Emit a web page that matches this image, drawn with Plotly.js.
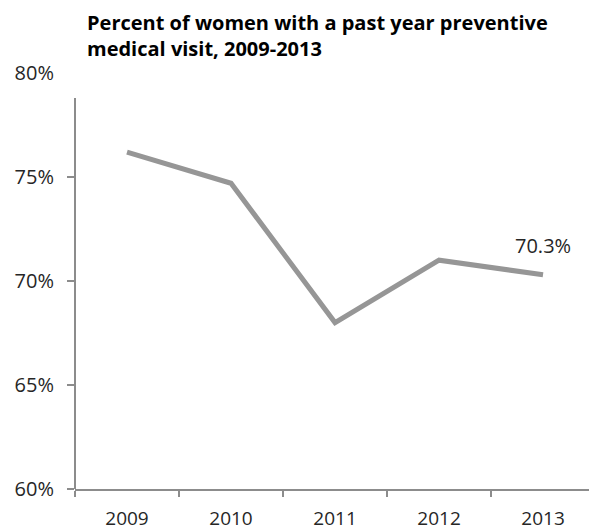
<!DOCTYPE html>
<html>
<head>
<meta charset="utf-8">
<script src="https://cdn.plot.ly/plotly-3.0.1.min.js"></script>
<style>html,body{margin:0;padding:0;background:#fff;}#chart{width:589px;height:531px;}</style>
</head>
<body>
<div id="chart"></div>
<script>
const years = ['2009', '2010', '2011', '2012', '2013'];
const percentVisit = [76.2, 74.7, 68.0, 71.0, 70.3];
const yTickValues = [60, 65, 70, 75, 80];
const yTickMarks = [60, 65, 70, 75];
const titleText = 'Percent of women with a past year preventive<br>medical visit, 2009-2013';

const axisGray = '#8c8c8c';
const textColor = '#262626';
const fontFamily = '"Open Sans", "Noto Sans", sans-serif';

const lastIdx = percentVisit.length - 1;

const traces = [
  {
    x: years,
    y: percentVisit,
    type: 'scatter',
    mode: 'lines',
    line: {color: '#969696', width: 5},
    hoverinfo: 'skip',
    showlegend: false
  },
  {
    x: years,
    y: years.map(() => null),
    yaxis: 'y2',
    type: 'scatter',
    mode: 'lines',
    hoverinfo: 'skip',
    showlegend: false
  }
];

const layout = {
  width: 589,
  height: 531,
  margin: {l: 75, r: 0, t: 73, b: 42, pad: 0},
  paper_bgcolor: '#ffffff',
  plot_bgcolor: '#ffffff',
  font: {family: fontFamily, color: textColor, size: 20},
  title: {
    text: titleText,
    font: {family: fontFamily, size: 20, color: '#000000', weight: 'bold'},
    x: 87 / 589,
    xanchor: 'left',
    xref: 'container',
    y: 0.944,
    yanchor: 'top',
    yref: 'container'
  },
  xaxis: {
    type: 'category',
    range: [-0.5, 4.442],
    showgrid: false,
    zeroline: false,
    showline: true,
    linecolor: axisGray,
    linewidth: 2,
    ticks: 'outside',
    tickson: 'boundaries',
    ticklen: 6,
    tickwidth: 2,
    tickcolor: axisGray,
    ticklabelstandoff: 11,
    tickfont: {family: fontFamily, size: 19, color: textColor}
  },
  yaxis: {
    range: [60, 80],
    tickvals: yTickValues,
    ticktext: yTickValues.map(v => v + '%'),
    showgrid: false,
    zeroline: false,
    showline: false,
    ticks: '',
    ticklabelstandoff: 20,
    tickfont: {family: fontFamily, size: 20, color: textColor}
  },
  yaxis2: {
    overlaying: 'y',
    side: 'left',
    range: [60, 80],
    tickvals: yTickMarks,
    showticklabels: false,
    showgrid: false,
    zeroline: false,
    showline: false,
    ticks: 'outside',
    ticklen: 7,
    tickwidth: 2,
    tickcolor: axisGray
  },
  shapes: [
    {
      type: 'line',
      xref: 'paper', yref: 'y',
      x0: 0, x1: 0, y0: 60, y1: 78.8,
      line: {color: axisGray, width: 2}
    }
  ],
  annotations: [
    {
      x: lastIdx,
      y: percentVisit[lastIdx],
      xref: 'x', yref: 'y',
      text: percentVisit[lastIdx].toFixed(1) + '%',
      showarrow: false,
      xanchor: 'center',
      yanchor: 'bottom',
      yshift: 14,
      font: {family: fontFamily, size: 20, color: textColor}
    }
  ]
};

Plotly.newPlot('chart', traces, layout, {staticPlot: true, displayModeBar: false});
</script>
</body>
</html>
